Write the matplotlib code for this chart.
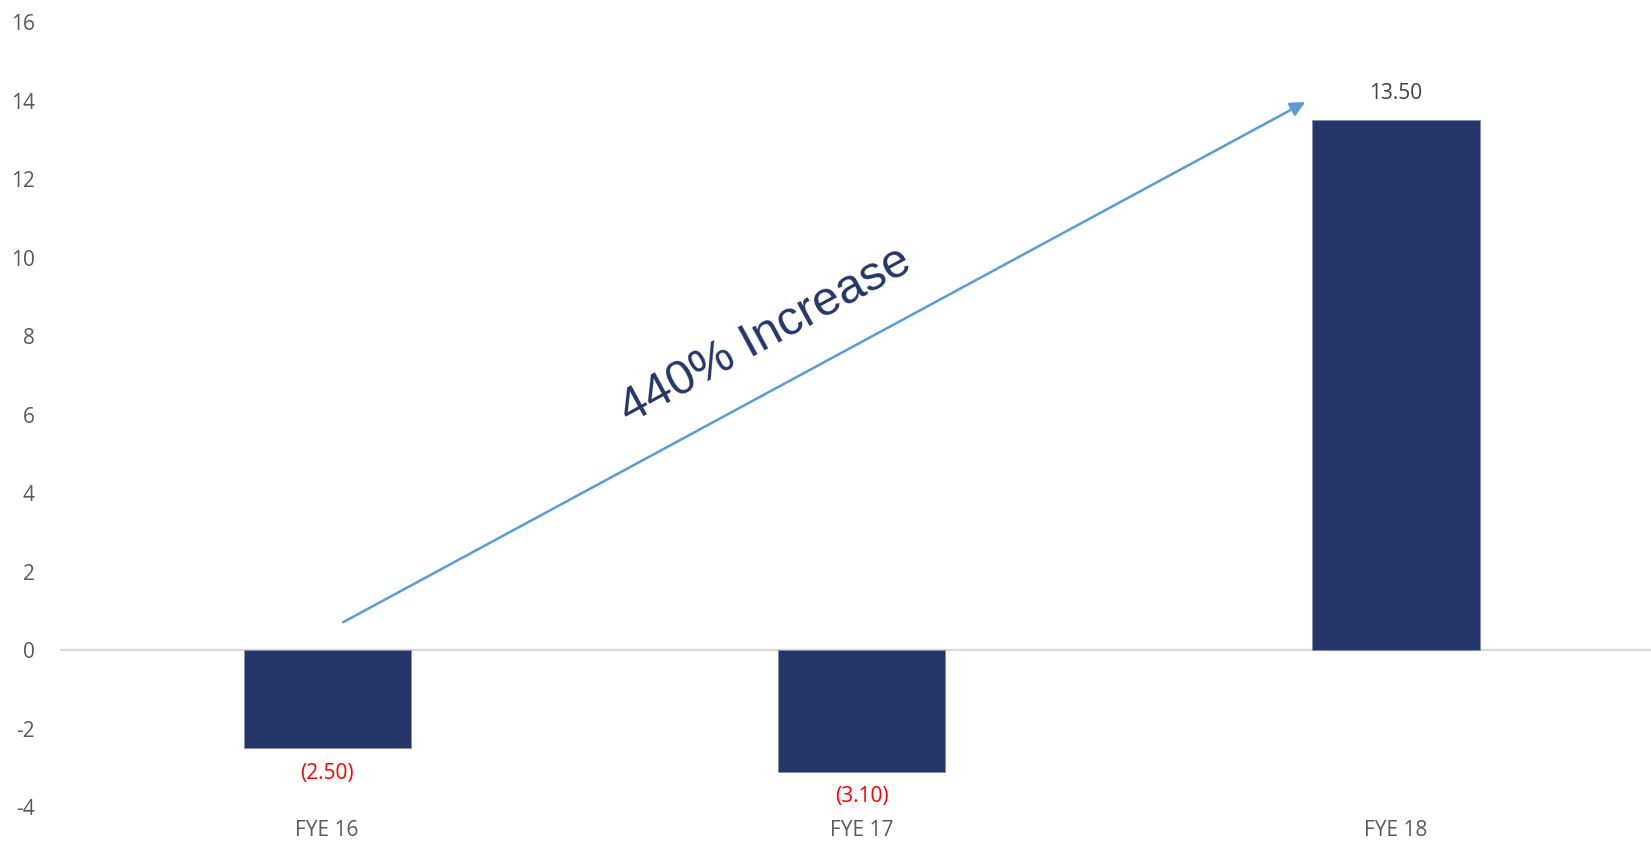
import matplotlib.pyplot as plt

categories = ['FYE 16', 'FYE 17', 'FYE 18']
values = [-2.50, -3.10, 13.50]
value_labels = ['(2.50)', '(3.10)', '13.50']
yticks = [-4, -2, 0, 2, 4, 6, 8, 10, 12, 14, 16]

# arrow start / end (category position, value)
arrow_start = (0.03, 0.71)
arrow_end = (1.83, 13.96)
arrow_text = '440% Increase'

plt.rcParams['font.family'] = ['Open Sans', 'DejaVu Sans']
plt.rcParams['axes.unicode_minus'] = False

fig = plt.figure(figsize=(16.51, 8.41), dpi=100)
ax = fig.add_axes([0.0363, 0.0404, 0.9637, 0.9334])

x = range(len(categories))
bars = ax.bar(x, values, width=0.313, color='#253668', edgecolor='#7f8fb0', linewidth=0.6, zorder=3)

ax.axhline(0, color='#d9d9d9', linewidth=1.6, zorder=2)

# Etiquetas de datos
for i, v in enumerate(values):
    if v < 0:
        ax.annotate(value_labels[i], (i, v), xytext=(0, -18), textcoords='offset points',
                    ha='center', va='center', color='#ff0000', fontsize=15)
    else:
        ax.annotate(value_labels[i], (i, v), xytext=(0, 19), textcoords='offset points',
                    ha='center', va='center', color='#404040', fontsize=15)

# Flecha de tendencia
ax.annotate('', xy=arrow_end, xytext=arrow_start,
            arrowprops=dict(arrowstyle='-|>', color='#5b9bd5', lw=1.8,
                            mutation_scale=22, shrinkA=0, shrinkB=0), zorder=4)
ax.text(0.82, 8.0, arrow_text, rotation=28.5, rotation_mode='anchor',
        ha='center', va='center', fontsize=35, color='#243668',
        family=['Liberation Sans', 'DejaVu Sans'])

ax.set_xlim(-0.5, 2.477)
ax.set_ylim(-4, 16)
ax.set_yticks(yticks)
ax.set_xticks(list(x))
ax.set_xticklabels(categories)
ax.tick_params(axis='both', length=0, labelsize=15, colors='#595959')
ax.tick_params(axis='y', pad=18)
ax.tick_params(axis='x', pad=9)

for s in ax.spines.values():
    s.set_visible(False)

plt.savefig('out.png')
